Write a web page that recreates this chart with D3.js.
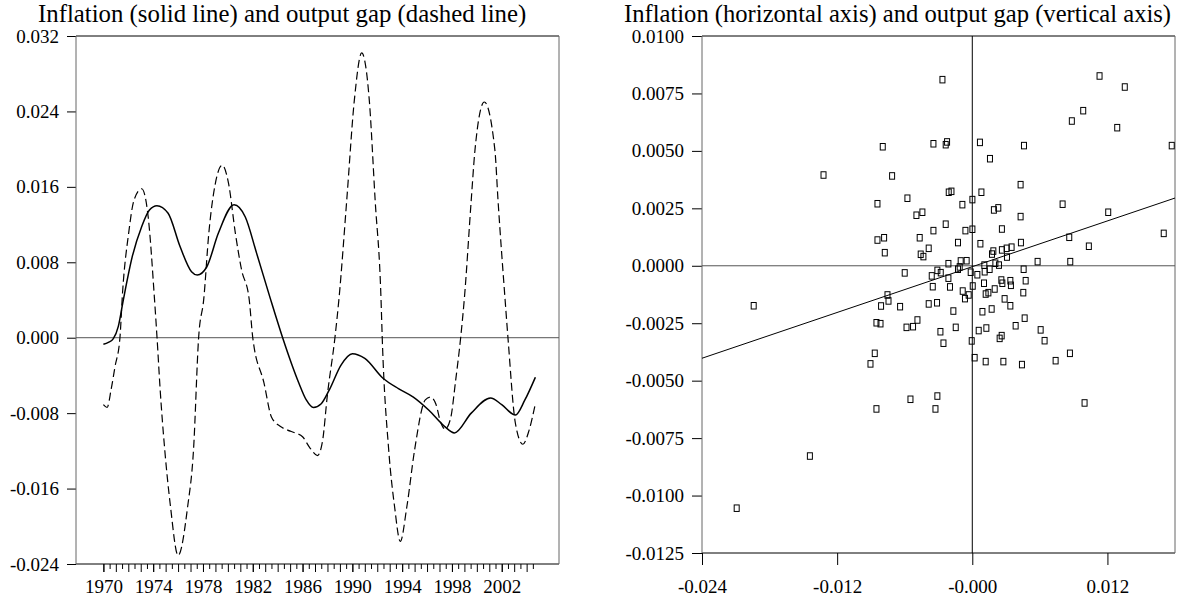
<!DOCTYPE html>
<html>
<head>
<meta charset="utf-8">
<title>Inflation and output gap</title>
<script src="https://cdn.jsdelivr.net/npm/d3@7"></script>
<style>
  body { margin: 0; background: #fff; }
  text { font-family: "Liberation Serif", "Times New Roman", serif; fill: #000; }
</style>
</head>
<body>
<svg id="chart" width="1177" height="596"></svg>
<script>
// ---- left panel: time series ----
var inflYears = [1970.0, 1970.4, 1970.8, 1971.2, 1971.6, 1972.3, 1973.08, 1973.7, 1974.3, 1975.2,
  1976.15, 1977.08, 1977.54, 1978.3, 1979.24, 1980.5, 1981.4, 1982.3, 1983.4, 1984.4,
  1985.1, 1985.7, 1986.3, 1986.87, 1987.5, 1988.16, 1989.09, 1990.0, 1991.0, 1992.46,
  1993.7, 1994.9, 1996.15, 1997.4, 1998.2, 1999.55, 2001.1, 2002.0, 2003.1, 2003.86, 2004.7];
var inflValues = [-0.0007, -0.0005, -0.0001, 0.0012, 0.0040, 0.0085, 0.0118, 0.01355, 0.0140, 0.0132,
  0.0097, 0.0070, 0.00665, 0.0075, 0.0111, 0.0141, 0.0128, 0.0090, 0.0042, 0.0000,
  -0.0027, -0.0048, -0.0066, -0.0074, -0.0070, -0.0055, -0.0029, -0.0017, -0.0022, -0.0043,
  -0.0054, -0.0063, -0.0077, -0.0094, -0.0101, -0.0080, -0.0064, -0.0071, -0.0082, -0.0066, -0.0042];

var gapYears = [1970.0, 1970.3, 1970.62, 1970.93, 1971.33, 1971.54, 1972.03, 1972.46, 1973.08, 1973.6,
  1974.1, 1974.31, 1974.56, 1974.93, 1975.39, 1976.0, 1976.77, 1977.24, 1977.65, 1978.07,
  1978.47, 1979.0, 1979.55, 1980.05, 1980.6, 1981.1, 1981.7, 1982.0, 1982.9, 1983.5,
  1984.2, 1984.8, 1985.4, 1986.0, 1986.6, 1987.2, 1987.6, 1988.0, 1988.6, 1988.93,
  1989.55, 1990.16, 1990.75, 1991.36, 1991.83, 1992.3, 1992.4, 1992.92, 1993.39, 1993.85,
  1994.38, 1995.0, 1995.86, 1996.3, 1996.7, 1997.1, 1997.45, 1997.9, 1998.3, 1998.7,
  1999.0, 1999.55, 1999.85, 2000.6, 2001.45, 2001.7, 2002.26, 2002.5, 2003.1, 2003.7,
  2004.2, 2004.7];
var gapValues = [-0.0071, -0.0074, -0.0055, -0.0031, 0.0000, 0.0048, 0.0111, 0.0146, 0.0158, 0.0128,
  0.0042, 0.0000, -0.0055, -0.0119, -0.0179, -0.0231, -0.0179, -0.0119, 0.0000, 0.0042,
  0.0111, 0.0164, 0.0183, 0.0164, 0.0111, 0.0072, 0.0042, 0.0000, -0.0048, -0.0084,
  -0.0094, -0.0098, -0.0101, -0.0105, -0.0117, -0.0125, -0.0110, -0.0060, 0.0000, 0.0042,
  0.0146, 0.0252, 0.0302, 0.0252, 0.0146, 0.0042, 0.0000, -0.0119, -0.0179, -0.0216,
  -0.0179, -0.0119, -0.0066, -0.0063, -0.0070, -0.0090, -0.0097, -0.0085, -0.0045, 0.0000,
  0.0042, 0.0146, 0.0199, 0.0250, 0.0199, 0.0146, 0.0042, 0.0000, -0.0091, -0.0113,
  -0.0098, -0.0070];

var yearLabels = [1970, 1974, 1978, 1982, 1986, 1990, 1994, 1998, 2002];
var lineYTicks = [-0.024, -0.016, -0.008, 0.000, 0.008, 0.016, 0.024, 0.032];

// ---- right panel: scatter, inflation (x) vs output gap (y) ----
var scatterInflation = [
  0.01130, 0.01354, 0.00985, 0.00884, 0.01287, 0.01771, 0.00802, 0.01207, 0.01700, 0.00861,
  0.01035, 0.00580, 0.00870, 0.00607, 0.00642, 0.00867, 0.00740, 0.00997,
  -0.00265, -0.00795, -0.00345, -0.00236, -0.00224, 0.00068, 0.00459, 0.00157, -0.01321, -0.00712,
  0.00429, -0.00209, -0.00185, 0.00081, -0.00842, -0.00576, -0.00088, 0.00001, -0.00496, -0.00443,
  0.00192, 0.00231, 0.00429,
  -0.00236, -0.00842, -0.00783, -0.00467, -0.00345, -0.00061, 0.00001, 0.00263, -0.00777, -0.00127,
  0.00072, -0.00458, -0.00434, -0.00387, 0.00432, 0.00263, 0.00305, 0.00349, 0.00308, 0.00175,
  0.00187, -0.00212, -0.00103, -0.00050, 0.00107, 0.00205, 0.00237, -0.00600, -0.00310, -0.00280,
  -0.00360, -0.00127, -0.00112, -0.00014, 0.00045, 0.00110, 0.00154, 0.00456, -0.00212, 0.00104,
  0.00258, 0.00267, 0.00338, 0.00343, 0.00474, -0.00351, -0.00198, 0.00004, -0.00085, -0.00065,
  -0.00032, 0.00119, 0.00143, 0.00199, 0.00453, -0.00753, -0.00744, -0.00810, -0.00641, -0.00387,
  -0.00313, 0.00287, 0.00338, -0.00168, 0.00090, 0.00172, -0.00851, -0.00815, -0.00584, -0.00526,
  -0.00487, -0.00283, -0.00147, 0.00057, 0.00125, 0.00243, 0.00261, 0.00385, 0.00465, -0.00256,
  -0.00005, -0.00866, -0.00904, 0.00021, 0.00119, 0.00276, 0.00441,
  -0.00549, -0.00310, -0.00851, -0.00327, -0.01941, -0.01442, -0.02092];
var scatterGap = [
  0.00826, 0.00778, 0.00675, 0.00630, 0.00601, 0.00523, 0.00268, 0.00233, 0.00141, 0.00124,
  0.00085, 0.00018, 0.00018, -0.00279, -0.00326, -0.00381, -0.00413, -0.00597,
  0.00810, 0.00518, 0.00531, 0.00527, 0.00539, 0.00537, 0.00523, 0.00466, 0.00395, 0.00391,
  0.00353, 0.00320, 0.00324, 0.00320, 0.00270, 0.00294, 0.00266, 0.00288, 0.00220, 0.00233,
  0.00243, 0.00252, 0.00214,
  0.00181, 0.00112, 0.00122, 0.00122, 0.00153, 0.00153, 0.00159, 0.00160, 0.00057, 0.00101,
  0.00096, 0.00050, 0.00040, 0.00076, 0.00101, 0.00069, 0.00076, 0.00081, 0.00038, 0.00051,
  0.00064, 0.00009, 0.00021, 0.00022, 0.00003, 0.00011, 0.00003, -0.00031, -0.00020, -0.00030,
  -0.00044, -0.00015, -0.00005, -0.00028, -0.00039, -0.00026, -0.00015, -0.00015, -0.00054, -0.00076,
  -0.00062, -0.00076, -0.00065, -0.00085, -0.00065, -0.00091, -0.00092, -0.00088, -0.00110, -0.00143,
  -0.00127, -0.00123, -0.00117, -0.00101, -0.00117, -0.00127, -0.00153, -0.00175, -0.00178, -0.00166,
  -0.00161, -0.00144, -0.00174, -0.00197, -0.00200, -0.00188, -0.00248, -0.00252, -0.00268, -0.00265,
  -0.00236, -0.00287, -0.00268, -0.00282, -0.00271, -0.00316, -0.00304, -0.00261, -0.00228, -0.00337,
  -0.00327, -0.00381, -0.00427, -0.00400, -0.00417, -0.00417, -0.00430,
  -0.00581, -0.00567, -0.00623, -0.00623, -0.00174, -0.00828, -0.01055];

var scatXTicks = [-0.024, -0.012, 0.0, 0.012];
var scatXLabels = ["-0.024", "-0.012", "-0.000", "0.012"];
var scatYTicks = [-0.0125, -0.0100, -0.0075, -0.0050, -0.0025, 0.0000, 0.0025, 0.0050, 0.0075, 0.0100];
var fitSlope = 0.166, fitIntercept = -0.00004;

var svg = d3.select("#chart");
var FS = 19;

function styleAxis(g) {
  g.select(".domain").remove();
  g.selectAll(".tick line").attr("stroke", "#000");
  g.selectAll(".tick text").style("font-size", FS + "px")
    .style("font-family", '"Liberation Serif", "Times New Roman", serif').attr("fill", "#000");
}

function frame(g, x0, x1, y0, y1) {
  g.append("line").attr("x1", x0).attr("x2", x1).attr("y1", y0).attr("y2", y0).attr("stroke", "#000");
  g.append("line").attr("x1", x0).attr("x2", x1).attr("y1", y1).attr("y2", y1).attr("stroke", "#000");
  g.append("line").attr("x1", x0).attr("x2", x0).attr("y1", y0).attr("y2", y1).attr("stroke", "#666");
  g.append("line").attr("x1", x1).attr("x2", x1).attr("y1", y0).attr("y2", y1).attr("stroke", "#666");
}

// ================= left panel =================
var L = svg.append("g");
var lx = d3.scaleLinear().domain([1967.8, 2006.6]).range([76, 559]);
var ly = d3.scaleLinear().domain([-0.024, 0.032]).range([564, 36]);

L.append("text").attr("x", 38).attr("y", 22).style("font-size", "24.8px")
  .text("Inflation (solid line) and output gap (dashed line)");

L.append("g").attr("transform", "translate(76,0)")
  .call(d3.axisLeft(ly).tickValues(lineYTicks).tickSize(9).tickPadding(8)
    .tickFormat(function (d) { return d.toFixed(3); }))
  .call(styleAxis);

var halfYears = d3.range(1970, 2004.6, 0.5);
L.append("g").attr("transform", "translate(0,564)")
  .call(d3.axisBottom(lx).tickValues(halfYears.filter(function (d) { return d % 1 !== 0; }))
    .tickSize(5).tickFormat(""))
  .call(styleAxis);
L.append("g").attr("transform", "translate(0,564)")
  .call(d3.axisBottom(lx).tickValues(halfYears.filter(function (d) { return d % 1 === 0; }))
    .tickSize(8).tickFormat(""))
  .call(styleAxis);
L.append("g").attr("transform", "translate(0,564)")
  .call(d3.axisBottom(lx).tickValues(yearLabels).tickSize(8).tickPadding(7.5)
    .tickFormat(function (d) { return String(d); }))
  .call(styleAxis);

frame(L, 76, 559, 36, 564);
L.append("line").attr("x1", 76).attr("x2", 559).attr("y1", ly(0)).attr("y2", ly(0)).attr("stroke", "#555");

var inflData = inflYears.map(function (t, i) { return [t, inflValues[i]]; });
var gapData = gapYears.map(function (t, i) { return [t, gapValues[i]]; });
var line = d3.line().x(function (d) { return lx(d[0]); }).y(function (d) { return ly(d[1]); })
  .curve(d3.curveMonotoneX);

L.append("path").datum(gapData).attr("d", line).attr("fill", "none")
  .attr("stroke", "#000").attr("stroke-width", 1.2).attr("stroke-dasharray", "8,4");
L.append("path").datum(inflData).attr("d", line).attr("fill", "none")
  .attr("stroke", "#000").attr("stroke-width", 1.5);

// ================= right panel =================
var R = svg.append("g");
var sx = d3.scaleLinear().domain([-0.024, 0.018]).range([702, 1175]);
var sy = d3.scaleLinear().domain([-0.0125, 0.0100]).range([553, 36]);

R.append("text").attr("x", 624).attr("y", 22).style("font-size", "24.6px")
  .text("Inflation (horizontal axis) and output gap (vertical axis)");

R.append("g").attr("transform", "translate(702,0)")
  .call(d3.axisLeft(sy).tickValues(scatYTicks).tickSize(10).tickPadding(8)
    .tickFormat(function (d) { return d.toFixed(4); }))
  .call(styleAxis);
R.append("g").attr("transform", "translate(0,553)")
  .call(d3.axisBottom(sx).tickValues(scatXTicks).tickSize(12).tickPadding(14.5)
    .tickFormat(function (d, i) { return scatXLabels[i]; }))
  .call(styleAxis);

frame(R, 702, 1175, 36, 553);
R.append("line").attr("x1", 702).attr("x2", 1175).attr("y1", sy(0)).attr("y2", sy(0)).attr("stroke", "#555");
R.append("line").attr("x1", sx(0)).attr("x2", sx(0)).attr("y1", 36).attr("y2", 553).attr("stroke", "#000");

var fx = sx.domain();
R.append("line")
  .attr("x1", sx(fx[0])).attr("y1", sy(fitIntercept + fitSlope * fx[0]))
  .attr("x2", sx(fx[1])).attr("y2", sy(fitIntercept + fitSlope * fx[1]))
  .attr("stroke", "#000").attr("stroke-width", 1);

var pts = scatterInflation.map(function (v, i) { return [v, scatterGap[i]]; });
R.selectAll("rect.pt").data(pts).enter().append("rect").attr("class", "pt")
  .attr("x", function (d) { return sx(d[0]) - 2.5; })
  .attr("y", function (d) { return sy(d[1]) - 3.25; })
  .attr("width", 5).attr("height", 6.5)
  .attr("fill", "none").attr("stroke", "#000").attr("stroke-width", 1);
</script>
</body>
</html>
